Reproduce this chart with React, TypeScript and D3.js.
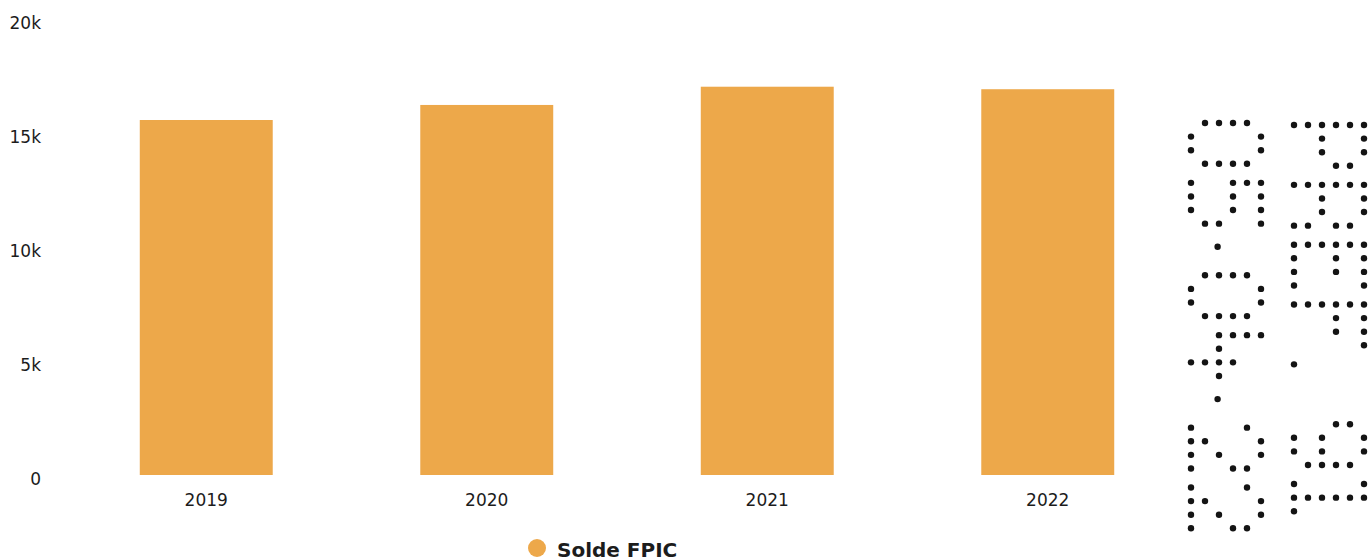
import React from "react";
import * as d3 from "d3";

// Series: FPIC balance per year
const years = ["2019", "2020", "2021", "2022"];
const soldeFpic = [15570, 16230, 17030, 16920];
const yTicks = [0, 5000, 10000, 15000, 20000];
const seriesName = "Solde FPIC";

// Perforated reception stamp, read top-to-bottom, two lines
const stampLines = ["PREF. 91", "05·04·22"];

const W = 1370;
const H = 560;
const BAR_COLOR = "#EDA84A";
const TEXT_COLOR = "#1c1c1c";
const FONT = "'DejaVu Sans', Verdana, sans-serif";

// 4x6 dot-matrix glyphs (top row first) used by the perforation stamp
const GLYPHS: Record<string, string[]> = {
  P: ["###.", "#..#", "#..#", "###.", "#...", "#..."],
  R: ["###.", "#..#", "#..#", "###.", "#..#", "#..#"],
  E: ["####", "#...", "###.", "#...", "#...", "####"],
  F: ["####", "#...", "###.", "#...", "#...", "#..."],
  "9": [".##.", "#..#", "#..#", ".###", "...#", ".##."],
  "1": ["##.", ".#.", ".#.", ".#.", ".#.", "###"],
  "0": [".##.", "#..#", "#..#", "#..#", "#..#", ".##."],
  "5": ["####", "#...", "###.", "...#", "...#", "###."],
  "4": ["#...", "#...", "#.#.", "####", "..#.", "..#."],
  "2": [".##.", "#..#", "...#", "..#.", ".#..", "####"],
};

type Dot = { x: number; y: number };

function stampDots(): Dot[] {
  const rowCell = 14; // across the (rotated) glyph height
  const colCell = 13.6; // along the reading direction
  const firstRowX = [1364, 1261];
  const startY = [125, 123];
  const dots: Dot[] = [];
  stampLines.forEach((line, li) => {
    let pos = 0;
    for (const ch of line) {
      if (ch === " ") {
        pos += 2.0;
        continue;
      }
      if (ch === ".") {
        dots.push({ x: firstRowX[li] - 5 * rowCell, y: startY[li] + pos * colCell });
        pos += 2.4;
        continue;
      }
      if (ch === "·") {
        dots.push({ x: firstRowX[li] - 3.1 * rowCell, y: startY[li] + (pos + 0.3) * colCell });
        pos += 2.4;
        continue;
      }
      const g = GLYPHS[ch];
      if (!g) continue;
      g.forEach((row, r) => {
        row.split("").forEach((c, k) => {
          if (c === "#") {
            dots.push({ x: firstRowX[li] - r * rowCell, y: startY[li] + (pos + k) * colCell });
          }
        });
      });
      pos += g[0].length === 3 ? 4.8 : 4.4;
    }
  });
  return dots;
}

export default function App() {
  const x = d3
    .scaleBand<string>()
    .domain(years)
    .range([66, 1188])
    .paddingInner(0.526)
    .paddingOuter(0.263);
  const y = d3.scaleLinear().domain([0, 20000]).range([475, 19]);
  const fmt = (v: number) => (v === 0 ? "0" : `${v / 1000}k`);
  const dots = stampDots();

  return (
    <div style={{ position: "absolute", left: 0, top: 0, width: W, height: H, background: "#fff" }}>
      <svg width={W} height={H} style={{ display: "block" }} fontFamily={FONT}>
        <rect width={W} height={H} fill="#fff" />

        {/* y-axis labels */}
        <g>
          {yTicks.map((t) => (
            <text
              key={t}
              x={41}
              y={y(t) + 10}
              textAnchor="end"
              fontSize={17}
              fill={TEXT_COLOR}
            >
              {fmt(t)}
            </text>
          ))}
        </g>

        {/* bars */}
        <g>
          {years.map((yr, i) => (
            <rect
              key={yr}
              x={x(yr)}
              y={y(soldeFpic[i])}
              width={x.bandwidth()}
              height={y(0) - y(soldeFpic[i])}
              fill={BAR_COLOR}
            />
          ))}
        </g>

        {/* x-axis labels */}
        <g>
          {years.map((yr) => (
            <text
              key={yr}
              x={(x(yr) ?? 0) + x.bandwidth() / 2}
              y={506}
              textAnchor="middle"
              fontSize={17}
              fill={TEXT_COLOR}
            >
              {yr}
            </text>
          ))}
        </g>

        {/* legend */}
        <g>
          <circle cx={537} cy={548} r={9} fill={BAR_COLOR} />
          <text x={557} y={557} fontSize={20} fontWeight="bold" fill={TEXT_COLOR}>
            {seriesName}
          </text>
        </g>

        {/* perforation stamp */}
        <g fill="#141414">
          {dots.map((d, i) => (
            <circle key={i} cx={d.x} cy={d.y} r={3.2} />
          ))}
        </g>
      </svg>
    </div>
  );
}
